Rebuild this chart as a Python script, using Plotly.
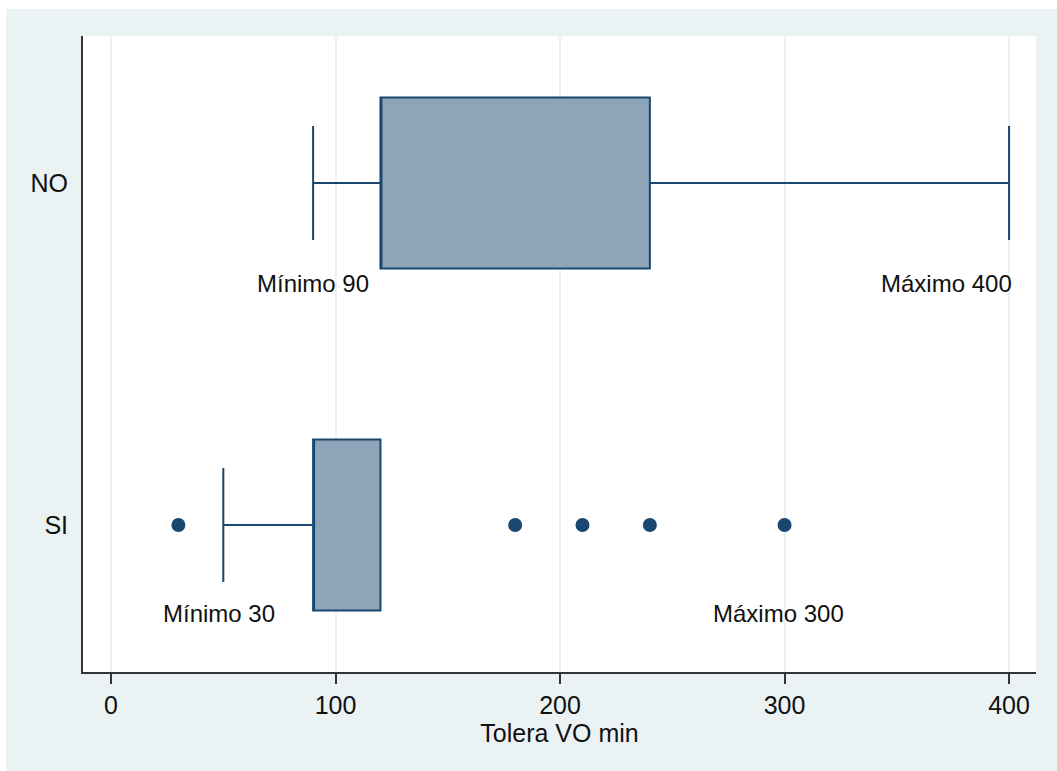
import plotly.graph_objects as go

# ---- data ----
groups = ["NO", "SI"]
q1 = [120, 90]
median = [120, 90]
q3 = [240, 120]
lower_whisker = [90, 50]
upper_whisker = [400, 120]
outlier_group = ["SI", "SI", "SI", "SI", "SI"]
outlier_values = [30, 180, 210, 240, 300]
x_ticks = [0, 100, 200, 300, 400]
label_texts = ["Mínimo 90", "Máximo 400", "Mínimo 30", "Máximo 300"]
label_x = [90, 372, 48, 297.5]
label_y = [0.705, 0.705, -0.26, -0.26]

W, H = 1057, 771
ML, MR, MT, MB = 83, 21, 36, 99
PW, PH = W - ML - MR, H - MT - MB

NAVY = "#1a476f"
FILL = "#8ea4b8"
BG = "#eaf2f3"
AXIS = "#333333"
FONT = "Liberation Sans, Arial, Helvetica, sans-serif"

fig = go.Figure()
for g, a, m, b, lo, hi in zip(groups, q1, median, q3, lower_whisker, upper_whisker):
    fig.add_trace(go.Box(
        y=[g], q1=[a], median=[m], q3=[b], lowerfence=[lo], upperfence=[hi],
        orientation="h", width=0.5, whiskerwidth=0.667,
        fillcolor=FILL, line=dict(color=NAVY, width=2),
        boxpoints=False, showlegend=False, hoverinfo="skip"))

fig.add_trace(go.Scatter(
    x=outlier_values, y=outlier_group, mode="markers",
    marker=dict(size=14, color=NAVY), showlegend=False, hoverinfo="skip"))

for t, x, y in zip(label_texts, label_x, label_y):
    fig.add_annotation(x=x, y=y, xref="x", yref="y", text=t, showarrow=False,
                       font=dict(size=24, color="#111111", family=FONT))

# white strips at top and left of figure (outside the light background)
def px_to_paper_x(px):
    return (px - ML) / PW

def px_to_paper_y(py):
    return (H - MB - py) / PH

fig.add_shape(type="rect", xref="paper", yref="paper",
              x0=px_to_paper_x(0), x1=px_to_paper_x(W + 5),
              y0=px_to_paper_y(9), y1=px_to_paper_y(-5),
              fillcolor="white", line=dict(width=0), layer="below")
fig.add_shape(type="rect", xref="paper", yref="paper",
              x0=px_to_paper_x(-5), x1=px_to_paper_x(6),
              y0=px_to_paper_y(H + 5), y1=px_to_paper_y(-5),
              fillcolor="white", line=dict(width=0), layer="below")

fig.update_layout(
    width=W, height=H,
    margin=dict(l=ML, r=MR, t=MT, b=MB, pad=0),
    paper_bgcolor=BG, plot_bgcolor="white",
    font=dict(family=FONT, size=25, color="#111111"),
    xaxis=dict(
        range=[-12.5, 412], tickvals=x_ticks, ticktext=[str(v) for v in x_ticks],
        showgrid=True, gridcolor=BG, gridwidth=2, zeroline=False,
        showline=True, linecolor=AXIS, linewidth=2,
        ticks="outside", ticklen=10, tickwidth=1.5, tickcolor=AXIS,
        tickfont=dict(size=25),
        title=dict(text="Tolera VO min", font=dict(size=25), standoff=4),
    ),
    yaxis=dict(
        type="category", categoryorder="array", categoryarray=["SI", "NO"],
        range=[-0.43, 1.43], showgrid=False, zeroline=False,
        showline=True, linecolor=AXIS, linewidth=2,
        ticks="outside", ticklen=8, tickcolor="rgba(0,0,0,0)",
        tickfont=dict(size=25),
    ),
)

fig.write_html("out.html")
